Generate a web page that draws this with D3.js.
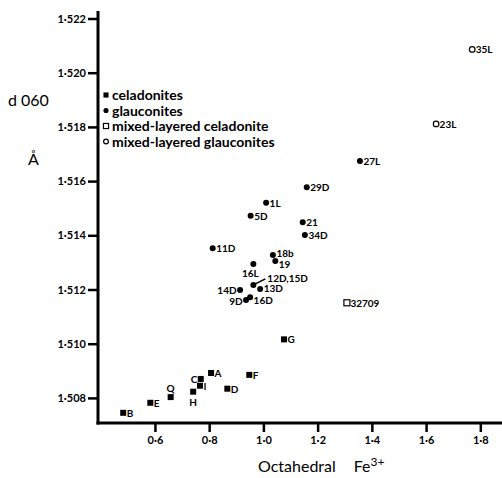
<!DOCTYPE html>
<html><head><meta charset="utf-8">
<script src="https://cdn.jsdelivr.net/npm/d3@7/dist/d3.min.js"></script>
<style>
html,body{margin:0;padding:0;background:#fff;}
svg{display:block;}
text{font-family:Lato,"DejaVu Sans",sans-serif;fill:#000;}
</style></head>
<body>
<svg id="c" width="502" height="478"></svg>
<script>
// ---- data ----
const celadoniteNames = ["A","B","C","D","E","F","G","H","I","Q"];
const celadoniteFe    = [0.807,0.483,0.769,0.867,0.583,0.948,1.076,0.741,0.766,0.658];
const celadoniteD060  = [1.50892,1.50745,1.50870,1.50834,1.50782,1.50885,1.51016,1.50823,1.50845,1.50803];

const glauconiteNames = ["1L","5D","9D","11D","12D,15D","13D","14D","16D","16L","18b","19","21","27L","29D","34D"];
const glauconiteFe    = [1.010,0.953,0.936,0.813,0.963,0.988,0.914,0.951,0.963,1.035,1.044,1.145,1.356,1.160,1.153];
const glauconiteD060  = [1.51520,1.51472,1.51161,1.51352,1.51217,1.51202,1.51198,1.51171,1.51294,1.51327,1.51305,1.51448,1.51674,1.51577,1.51401];

const mixedCeladoniteNames = ["32709"];
const mixedCeladoniteFe    = [1.308];
const mixedCeladoniteD060  = [1.51151];

const mixedGlauconiteNames = ["23L","35L"];
const mixedGlauconiteFe    = [1.637,1.770];
const mixedGlauconiteD060  = [1.51811,1.52086];

const xTicks = [0.6,0.8,1.0,1.2,1.4,1.6,1.8];
const yTicks = [1.508,1.510,1.512,1.514,1.516,1.518,1.520,1.522];
const legendLabels = ["celadonites","glauconites","mixed-layered celadonite","mixed-layered glauconites"];

// label placement (style only): [anchor, dx, dy]
const labelPlace = {
  "C":["end",-3.5,4], "Q":["middle",0,-5], "H":["middle",0,14],
  "16L":["middle",-3,12.5], "14D":["end",-3.5,4], "9D":["end",-3.5,5],
  "18b":["start",3.5,1.5], "19":["start",3.5,7], "16D":["start",3.5,6.8],
  "13D":["start",3.5,3.3], "12D,15D":["leader",14,-2.8]
};

// ---- chart ----
const svg = d3.select("#c");
const x = d3.scaleLinear().domain([0.39,1.88]).range([98,502]);
const y = d3.scaleLinear().domain([1.507074,1.522203]).range([423,13]);
const dot = s => s.replace(".", "\u00B7");

const yAxis = d3.axisLeft(y).tickValues(yTicks).tickSize(10).tickPadding(2)
  .tickFormat(d => dot(d3.format(".3f")(d)));
const xAxis = d3.axisBottom(x).tickValues(xTicks).tickSize(9).tickPadding(4)
  .tickFormat(d => dot(d3.format(".1f")(d)));

const gy = svg.append("g").attr("transform","translate(98,0)").call(yAxis);
const gx = svg.append("g").attr("transform","translate(0,423)").call(xAxis);
[gy,gx].forEach(g=>{
  g.select(".domain").remove();
  g.selectAll(".tick line").attr("stroke","#000").attr("stroke-width",2.5);
  g.selectAll(".tick text").style("font-family","Lato,sans-serif").style("font-size","11px").style("font-weight","700").attr("fill","#000");
});
svg.append("line").attr("x1",98).attr("x2",98).attr("y1",11).attr("y2",424.5).attr("stroke","#000").attr("stroke-width",3);
svg.append("line").attr("x1",96.5).attr("x2",502).attr("y1",423).attr("y2",423).attr("stroke","#000").attr("stroke-width",3);

// axis titles
svg.append("text").attr("x",8).attr("y",106).style("font-size","16px").text("d 060");
svg.append("text").attr("x",28).attr("y",165).style("font-size","16px").text("\u00C5");
const xt = svg.append("text").attr("x",258).attr("y",472).style("font-size","16px");
xt.append("tspan").text("Octahedral");
xt.append("tspan").attr("dx",18).text("Fe");
xt.append("tspan").attr("dy",-6).style("font-size","12px").text("3+");

// markers
function sym(g, type, cx, cy, k){
  k = k || 1;
  if(type==="fsq") g.append("rect").attr("x",cx-3*k).attr("y",cy-3*k).attr("width",6*k).attr("height",6*k).attr("fill","#000");
  if(type==="fci") g.append("circle").attr("cx",cx).attr("cy",cy).attr("r",3*k).attr("fill","#000");
  if(type==="osq") g.append("rect").attr("x",cx-3*k).attr("y",cy-3*k).attr("width",6*k).attr("height",6*k).attr("fill","none").attr("stroke","#000").attr("stroke-width",1.2);
  if(type==="oci") g.append("circle").attr("cx",cx).attr("cy",cy).attr("r",2.8*k).attr("fill","none").attr("stroke","#000").attr("stroke-width",1.2);
}

const series = [
  {type:"fsq", names:celadoniteNames, xs:celadoniteFe, ys:celadoniteD060},
  {type:"fci", names:glauconiteNames, xs:glauconiteFe, ys:glauconiteD060},
  {type:"osq", names:mixedCeladoniteNames, xs:mixedCeladoniteFe, ys:mixedCeladoniteD060},
  {type:"oci", names:mixedGlauconiteNames, xs:mixedGlauconiteFe, ys:mixedGlauconiteD060}
];
const pts = svg.append("g");
series.forEach(s=>{
  s.names.forEach((n,i)=>{
    const cx = x(s.xs[i]), cy = y(s.ys[i]);
    sym(pts, s.type, cx, cy);
    const p = labelPlace[n] || ["start",3.5,4];
    const t = pts.append("text").style("font-size","10px").style("font-weight","700").text(n);
    if(p[0]==="leader"){
      pts.append("line").attr("x1",cx).attr("y1",cy).attr("x2",cx+12).attr("y2",cy-6).attr("stroke","#000").attr("stroke-width",1.6);
      t.attr("x",cx+p[1]).attr("y",cy+p[2]);
    } else {
      t.attr("x",cx+p[1]).attr("y",cy+p[2]).attr("text-anchor",p[0]);
    }
  });
});

// legend
const types = ["fsq","fci","osq","oci"];
const lg = svg.append("g");
legendLabels.forEach((l,i)=>{
  const ly = 95 + i*15.5;
  sym(lg, types[i], 106, ly, 0.85);
  lg.append("text").attr("x",112).attr("y",ly+5).style("font-size","14px").style("font-weight","700").text(l);
});
</script>
</body></html>
